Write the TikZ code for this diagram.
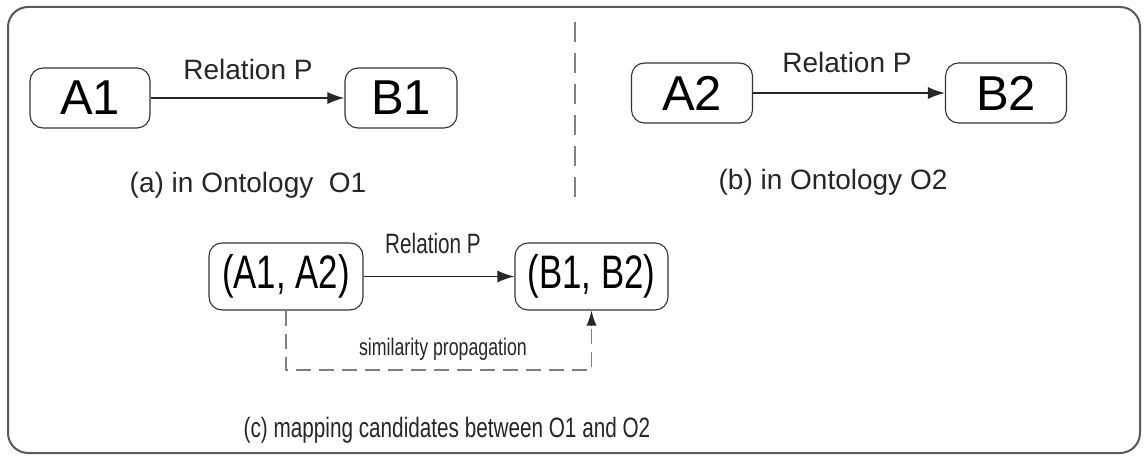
\documentclass[tikz,border=0pt]{standalone}
\usepackage{fontspec}
\setmainfont{Liberation Sans}
\newfontfamily\narrowfont[FakeStretch=0.74]{Liberation Sans}
\usetikzlibrary{arrows.meta}

\begin{document}
\begin{tikzpicture}[x=1pt,y=-1pt,
  concept/.style={draw=black!80,line width=1.1pt,rounded corners=13pt,inner sep=0pt,
    minimum height=60pt,font=\fontsize{49}{52}\selectfont},
  pairbox/.style={concept,minimum height=67pt,font=\narrowfont\fontsize{47}{50}\selectfont},
  rel/.style={-{Latex[length=17pt,width=12pt]},line width=1.6pt,black!85},
  label/.style={anchor=base,inner sep=0pt,text=black!85,font=\fontsize{28}{30}\selectfont},
  divider/.style={gray,line width=2pt,dash pattern=on 20pt off 11pt}]
\useasboundingbox (0,0) rectangle (1144,457);
\draw [black!65,line width=2pt,rounded corners=20pt] (8,7) rectangle (1140,453);
\draw [divider] (575,22) -- (575,198);

\node [concept,minimum width=120pt] (a1) at (90,98) {A1};
\node [concept,minimum width=112pt] (b1) at (401,98) {B1};
\draw [rel] (a1) -- (b1);
\node [label] (relp1) at (248,80) {Relation P};
\node [label] (onto1) at (248,193) {(a) in Ontology\ \ O1};

\node [concept,minimum width=121pt] (a2) at (692,93) {A2};
\node [concept,minimum width=121pt] (b2) at (1006,93) {B2};
\draw [rel] (a2) -- (b2);
\node [label] (relp2) at (847,73) {Relation P};
\node [label] (onto2) at (833,190) {(b) in Ontology O2};

\node [pairbox,minimum width=154pt] (a12) at (286,276.5) {(A1, A2)};
\node [pairbox,minimum width=153pt] (b12) at (591.5,276.5) {(B1, B2)};
\draw [rel] (a12) -- (b12);
\node [label,font=\narrowfont\fontsize{28}{30}\selectfont] (relp3) at (433,254) {Relation P};
\draw [gray,line width=1.5pt,dash pattern=on 15pt off 8pt] (a12.south) -- (a12.south |- 0,370) -| (b12.south |- 0,325);
\draw [-{Latex[length=15pt,width=10pt]},black!85,line width=1.3pt] (b12.south |- 0,326) -- (b12.south);
\node [label,font=\narrowfont\fontsize{24}{26}\selectfont] (simprop) at (443,355) {similarity propagation};
\node [label,font=\narrowfont\fontsize{28}{30}\selectfont] (mapc) at (447,437) {(c) mapping candidates between O1 and O2};
\end{tikzpicture}
\end{document}
